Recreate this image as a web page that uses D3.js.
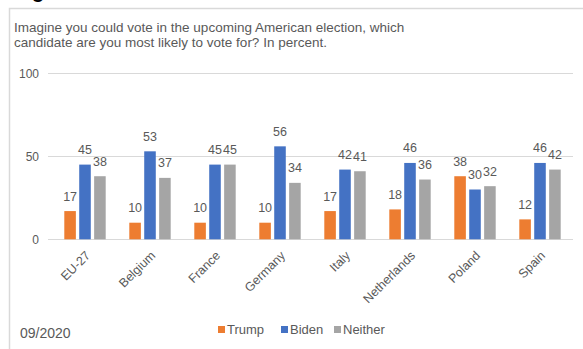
<!DOCTYPE html>
<html>
<head>
<meta charset="utf-8">
<script src="https://cdn.jsdelivr.net/npm/d3@7"></script>
<style>
  html, body { margin: 0; padding: 0; background: #fff; }
  svg { display: block; font-family: "Liberation Sans", Arial, sans-serif; }
</style>
</head>
<body>
<svg id="chart" width="583" height="349"></svg>
<script>
// Survey answers per country, in percent
const categories = ["EU-27", "Belgium", "France", "Germany", "Italy", "Netherlands", "Poland", "Spain"];
const seriesNames = ["Trump", "Biden", "Neither"];
const trump   = [17, 10, 10, 10, 17, 18, 38, 12];
const biden   = [45, 53, 45, 56, 42, 46, 30, 46];
const neither = [38, 37, 45, 34, 41, 36, 32, 42];
const yTicks = [0, 50, 100];
const titleLines = [
  "Imagine you could vote in the upcoming American election, which",
  "candidate are you most likely to vote for? In percent."
];
const dateNote = "09/2020";

const colors = { Trump: "#ED7D31", Biden: "#4472C4", Neither: "#A5A5A5" };
const textColor = "#595959";
const gridColor = "#D9D9D9";

const svg = d3.select("#chart");

// outer frame of the panel
svg.append("rect")
  .attr("x", 9.5).attr("y", 8.5)
  .attr("width", 600).attr("height", 400)
  .attr("fill", "none").attr("stroke", gridColor).attr("stroke-width", 1.5);

// descender of the heading above the panel
svg.append("text")
  .attr("x", 32).attr("y", -2)
  .attr("font-size", 20).attr("font-weight", "bold").attr("fill", "#000")
  .text("g");

// title
svg.append("g").selectAll("text")
  .data(titleLines)
  .join("text")
  .attr("x", 14)
  .attr("y", (d, i) => 32 + i * 14.5)
  .attr("font-size", 13.5)
  .attr("fill", textColor)
  .text(d => d);

const rows = categories.map((c, i) => ({
  category: c,
  values: { Trump: trump[i], Biden: biden[i], Neither: neither[i] }
}));

const x0 = d3.scaleBand().domain(categories).range([52.5, 572.5]).padding(0);
const x1 = d3.scaleBand().domain(seriesNames).range([-20.7, 20.7]).paddingInner(0.225);
const y = d3.scaleLinear().domain([0, 100]).range([239.3, 73.3]);
const cx = c => x0(c) + x0.bandwidth() / 2;

// y axis labels and gridlines
const yAxis = d3.axisLeft(y).tickValues(yTicks).tickSize(0).tickPadding(9);
const gy = svg.append("g").attr("transform", "translate(48,0)").call(yAxis);
gy.select(".domain").remove();
gy.selectAll("text").attr("font-size", 12).attr("fill", textColor)
  .attr("font-family", "Liberation Sans, Arial, sans-serif");
svg.append("g").selectAll("line")
  .data(yTicks)
  .join("line")
  .attr("x1", 48).attr("x2", 573)
  .attr("y1", d => Math.round(y(d)) + 0.5).attr("y2", d => Math.round(y(d)) + 0.5)
  .attr("stroke", gridColor).attr("stroke-width", 1.2);

// bars
const groups = svg.append("g").selectAll("g")
  .data(rows)
  .join("g")
  .attr("transform", d => `translate(${cx(d.category)},0)`);

groups.selectAll("rect")
  .data(d => seriesNames.map(s => ({ s, v: d.values[s] })))
  .join("rect")
  .attr("x", d => x1(d.s))
  .attr("width", x1.bandwidth())
  .attr("y", d => y(d.v))
  .attr("height", d => y(0) - y(d.v))
  .attr("fill", d => colors[d.s]);

// value labels
groups.selectAll("text")
  .data(d => seriesNames.map(s => ({ s, v: d.values[s] })))
  .join("text")
  .attr("x", d => x1(d.s) + x1.bandwidth() / 2)
  .attr("y", d => y(d.v) - 10.5)
  .attr("text-anchor", "middle")
  .attr("font-size", 12.5)
  .attr("fill", textColor)
  .text(d => d.v);

// category labels
const xAxis = d3.axisBottom(x0).tickSize(0).tickPadding(0);
const gx = svg.append("g").attr("transform", "translate(0,239.3)").call(xAxis);
gx.select(".domain").remove();
gx.selectAll(".tick text")
  .attr("font-size", 12.5)
  .attr("font-family", "Liberation Sans, Arial, sans-serif")
  .attr("fill", textColor)
  .attr("text-anchor", "end")
  .attr("dy", null)
  .attr("y", 0)
  .attr("transform", "translate(6,17) rotate(-45)");

// date note
svg.append("text")
  .attr("x", 20).attr("y", 337.5)
  .attr("font-size", 14)
  .attr("fill", textColor)
  .text(dateNote);

// legend
const legendX = [218, 281, 334];
const legend = svg.append("g").selectAll("g")
  .data(seriesNames)
  .join("g")
  .attr("transform", (d, i) => `translate(${legendX[i]},326)`);
legend.append("rect")
  .attr("width", 7).attr("height", 7)
  .attr("fill", d => colors[d]);
legend.append("text")
  .attr("x", 9).attr("y", 8)
  .attr("font-size", 13)
  .attr("fill", textColor)
  .text(d => d);
</script>
</body>
</html>
